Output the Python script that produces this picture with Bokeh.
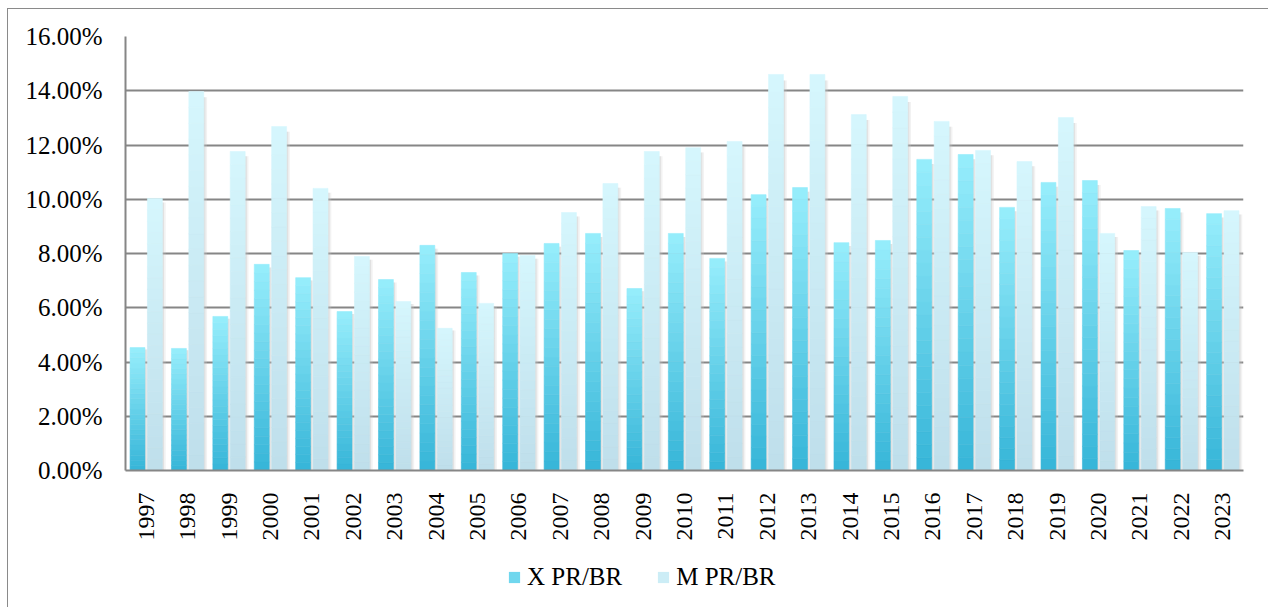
from bokeh.plotting import figure
from bokeh.models import (Range1d, FactorRange, NumeralTickFormatter, ColumnDataSource,
                          Legend, LegendItem, FixedTicker)
from bokeh.layouts import column
from bokeh.transform import dodge
from bokeh.embed import file_html
from bokeh.resources import INLINE
import math

years = [str(y) for y in range(1997, 2024)]
x_pr_br = [4.53, 4.50, 5.68, 7.60, 7.11, 5.86, 7.04, 8.30, 7.30, 8.00, 8.37, 8.74, 6.71, 8.74,
           7.82, 10.17, 10.43, 8.40, 8.48, 11.47, 11.65, 9.70, 10.62, 10.69, 8.11, 9.66, 9.47]
m_pr_br = [10.03, 13.97, 11.76, 12.68, 10.40, 7.89, 6.23, 5.24, 6.16, 7.93, 9.51, 10.58, 11.76,
           11.90, 12.13, 14.60, 14.60, 13.12, 13.79, 12.87, 11.80, 11.39, 13.01, 8.74, 9.73, 8.04, 9.58]
series_names = ["X PR/BR", "M PR/BR"]
y_ticks = [0, 0.02, 0.04, 0.06, 0.08, 0.10, 0.12, 0.14, 0.16]

FONT = "Liberation Serif"

p = figure(width=1260, height=536, output_backend="svg", toolbar_location=None,
           x_range=FactorRange(*years, range_padding=0), y_range=Range1d(0, 0.16),
           min_border_left=117, min_border_right=25, min_border_top=27, min_border_bottom=75)
p.outline_line_color = None
p.background_fill_color = "white"

def hx(c):
    return tuple(int(c[i:i + 2], 16) for i in (1, 3, 5))

def lerp(c1, c2, t):
    a, b = hx(c1), hx(c2)
    return "#%02x%02x%02x" % tuple(round(a[i] + (b[i] - a[i]) * t) for i in range(3))

N = 24
specs = [
    (x_pr_br, -0.21, "#36b5d8", "#97eefc"),
    (m_pr_br, 0.21, "#bfdfeb", "#d5f6fd"),
]
BW = 0.36

# soft shadows
for vals, off, _, _ in specs:
    src = ColumnDataSource(dict(year=years, top=[v / 100 * 0.985 for v in vals]))
    p.vbar(x=dodge("year", off + 0.08, range=p.x_range), top="top", bottom=0, width=BW,
           source=src, fill_color="#cccccc", fill_alpha=0.25, line_color=None)
    p.vbar(x=dodge("year", off + 0.04, range=p.x_range), top="top", bottom=0, width=BW,
           source=src, fill_color="#b8b8b8", fill_alpha=0.3, line_color=None)

for vals, off, cbot, ctop in specs:
    for k in range(N):
        t = (k + 0.5) / N
        col = lerp(cbot, ctop, t)
        src = ColumnDataSource(dict(year=years,
                                    bottom=[v / 100 * k / N for v in vals],
                                    top=[v / 100 * (k + 1) / N for v in vals]))
        p.vbar(x=dodge("year", off, range=p.x_range), top="top", bottom="bottom", width=BW,
               source=src, fill_color=col, line_color=col, line_width=0.6)

# axes
p.yaxis.ticker = FixedTicker(ticks=y_ticks)
p.yaxis.formatter = NumeralTickFormatter(format="0.00%")
p.yaxis.major_label_text_font = FONT
p.yaxis.major_label_text_font_size = "25px"
p.yaxis.major_label_text_color = "#000000"
p.yaxis.major_label_standoff = 17
p.yaxis.axis_line_color = "#868686"
p.yaxis.axis_line_width = 2
p.yaxis.major_tick_line_color = None
p.yaxis.minor_tick_line_color = None

p.xaxis.major_label_orientation = math.pi / 2
p.xaxis.major_label_text_font = FONT
p.xaxis.major_label_text_font_size = "24px"
p.xaxis.major_label_text_color = "#000000"
p.xaxis.major_label_standoff = 16
p.xaxis.axis_line_color = "#868686"
p.xaxis.axis_line_width = 2
p.xaxis.major_tick_line_color = None
p.xaxis.minor_tick_line_color = None

p.xgrid.grid_line_color = None
p.ygrid.ticker = FixedTicker(ticks=y_ticks)
p.ygrid.grid_line_color = "#868686"
p.ygrid.grid_line_width = 2

# legend strip
lg = figure(width=1260, height=62, output_backend="svg", toolbar_location=None,
            x_range=Range1d(0, 1), y_range=Range1d(0, 1),
            x_axis_location=None, y_axis_location=None,
            min_border_left=0, min_border_right=0, min_border_top=0, min_border_bottom=0)
lg.outline_line_color = None
lg.grid.visible = False
away = ColumnDataSource(dict(x=[-5.0], top=[-5.0]))
rx = lg.vbar(x="x", top="top", width=0.01, source=away,
             fill_color=lerp(specs[0][2], specs[0][3], 0.6), line_color=None)
rm = lg.vbar(x="x", top="top", width=0.01, source=away,
             fill_color=lerp(specs[1][2], specs[1][3], 0.6), line_color=None)
legend = Legend(items=[LegendItem(label=series_names[0], renderers=[rx]),
                       LegendItem(label=series_names[1], renderers=[rm])],
                orientation="horizontal", location=(382, 16),
                label_text_font=FONT, label_text_font_size="25px", label_text_color="#000000",
                glyph_width=14, glyph_height=14, label_standoff=6, spacing=34,
                padding=0, margin=0, border_line_color=None, background_fill_alpha=0)
lg.add_layout(legend, "center")

layout = column(p, lg, spacing=0)
layout.styles = {"position": "relative", "left": "7px", "top": "8px",
                 "border-left": "1px solid #8a8a8a", "border-top": "1px solid #8a8a8a"}

open("out.html", "w").write(file_html(layout, INLINE))
